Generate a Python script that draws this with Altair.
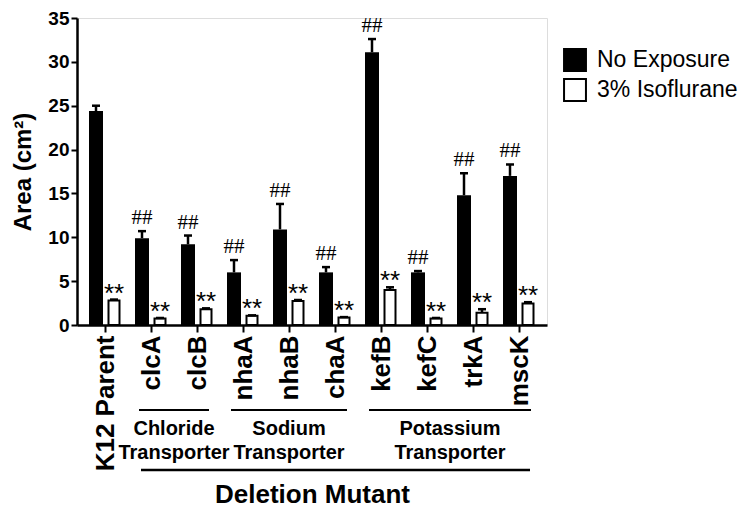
import json
import altair as alt
import pandas as pd

categories = ["K12 Parent", "clcA", "clcB", "nhaA", "nhaB", "chaA", "kefB", "kefC", "trkA", "mscK"]
no_exposure = [24.4, 9.9, 9.2, 6.0, 10.9, 6.0, 31.1, 6.0, 14.8, 17.0]
no_exposure_err = [0.6, 0.8, 1.0, 1.4, 2.9, 0.6, 1.5, 0.15, 2.5, 1.3]
isoflurane = [2.8, 0.75, 1.8, 1.05, 2.75, 0.85, 4.0, 0.75, 1.4, 2.45]
isoflurane_err = [0.1, 0.05, 0.1, 0.05, 0.1, 0.05, 0.3, 0.05, 0.4, 0.15]
no_exposure_sig = ["", "##", "##", "##", "##", "##", "##", "##", "##", "##"]
isoflurane_sig = ["**", "**", "**", "**", "**", "**", "**", "**", "**", "**"]
series_names = ["No Exposure", "3% Isoflurane"]
series_colors = ["black", "white"]

group_line1 = ["Chloride", "Sodium", "Potassium"]
group_line2 = ["Transporter", "Transporter", "Transporter"]
group_first = ["clcA", "nhaA", "kefB"]
group_last = ["clcB", "chaA", "mscK"]

x_title = "Deletion Mutant"
y_title = "Area (cm²)"
y_ticks = [0, 5, 10, 15, 20, 25, 30, 35]

FONT = "Liberation Sans"

rows = []
for i, c in enumerate(categories):
    rows.append(dict(idx=i, category=c, series=series_names[0], value=no_exposure[i],
                     top=no_exposure[i] + no_exposure_err[i], sig=no_exposure_sig[i]))
    rows.append(dict(idx=i, category=c, series=series_names[1], value=isoflurane[i],
                     top=isoflurane[i] + isoflurane_err[i], sig=isoflurane_sig[i]))
df = pd.DataFrame(rows)

gfirst = [categories.index(f) for f in group_first]
glast = [categories.index(l) for l in group_last]
groups = pd.DataFrame({
    "line1": group_line1,
    "line2": group_line2,
    "first": gfirst,
    "last": glast,
    "center": [(a + b) / 2 for a, b in zip(gfirst, glast)],
})
span = pd.DataFrame({"first": [min(gfirst)], "last": [max(glast)]})

label_expr = json.dumps(categories) + "[datum.value]"

xscale = alt.Scale(domain=[-0.5, len(categories) - 0.5], nice=False, zero=False)
yscale = alt.Scale(domain=[0, 35], nice=False)

PLOT_TOP = 18  # page y of plot top

X = alt.X("idx:Q", scale=xscale, title=x_title,
          axis=alt.Axis(values=list(range(len(categories))), labelExpr=label_expr,
                        labelAngle=-90, labelAlign="right", labelBaseline="middle",
                        labelFontSize=26, labelFontWeight="bold", labelColor="black",
                        labelPadding=3, tickSize=7, tickWidth=2, tickColor="black",
                        domainWidth=2.5, domainColor="black", grid=False,
                        titleFontSize=26, titleFontWeight="bold", titleColor="black",
                        titleY=177, titleBaseline="alphabetic"))
Y = alt.Y("value:Q", scale=yscale, title=y_title,
          axis=alt.Axis(values=y_ticks, labelFontSize=19, labelFontWeight="bold",
                        labelColor="black", labelPadding=2, tickSize=6, tickWidth=2,
                        tickColor="black", domainWidth=2.5, domainColor="black", grid=False,
                        titleFontSize=24, titleFontWeight="bold", titleColor="black",
                        titlePadding=12))

FILL = alt.Fill("series:N", scale=alt.Scale(domain=series_names, range=series_colors),
                legend=alt.Legend(orient="none", legendX=486, legendY=30, title=None,
                                  symbolType="square", symbolSize=480,
                                  symbolStrokeColor="black", symbolStrokeWidth=2,
                                  labelFontSize=23, labelFont=FONT, labelColor="black",
                                  rowPadding=0, labelOffset=10))

base = alt.Chart(df)
black = base.transform_filter(alt.datum.series == series_names[0])
white = base.transform_filter(alt.datum.series == series_names[1])

black_bars = black.mark_bar(width=14, xOffset=-9).encode(x=X, y=Y, fill=FILL)
white_bars = white.mark_bar(width=11, xOffset=9, stroke="black", strokeWidth=2).encode(
    x=X, y=Y, fill=FILL)

def err_layers(ch, off):
    stem = ch.mark_rule(xOffset=off, strokeWidth=2.5, color="black").encode(
        x=alt.X("idx:Q", scale=xscale), y=alt.Y("value:Q", scale=yscale), y2="top:Q")
    cap = ch.mark_tick(orient="horizontal", size=8, thickness=2.5, xOffset=off,
                       color="black", opacity=1).encode(
        x=alt.X("idx:Q", scale=xscale), y=alt.Y("top:Q", scale=yscale))
    return [stem, cap]

sig_black = black.mark_text(dx=-9, dy=-7, baseline="alphabetic", font="Liberation Serif",
                            fontSize=21, color="black").encode(
    x=alt.X("idx:Q", scale=xscale), y=alt.Y("top:Q", scale=yscale), text="sig:N")
sig_white = white.mark_text(dx=9, dy=2, baseline="alphabetic", font=FONT,
                            fontSize=26, color="black").encode(
    x=alt.X("idx:Q", scale=xscale), y=alt.Y("top:Q", scale=yscale), text="sig:N")

grp = alt.Chart(groups)
group_rules = grp.mark_rule(strokeWidth=2, color="black", xOffset=-12, x2Offset=12).encode(
    x=alt.X("first:Q", scale=xscale), x2="last:Q", y=alt.value(410 - PLOT_TOP))
group_text1 = grp.mark_text(font=FONT, fontSize=20, fontWeight="bold", color="black",
                            baseline="middle").encode(
    x=alt.X("center:Q", scale=xscale), y=alt.value(429 - PLOT_TOP), text="line1:N")
group_text2 = grp.mark_text(font=FONT, fontSize=20, fontWeight="bold", color="black",
                            baseline="middle").encode(
    x=alt.X("center:Q", scale=xscale), y=alt.value(453 - PLOT_TOP), text="line2:N")
span_rule = alt.Chart(span).mark_rule(strokeWidth=2.5, color="black", xOffset=-10,
                                      x2Offset=11).encode(
    x=alt.X("first:Q", scale=xscale), x2="last:Q", y=alt.value(470 - PLOT_TOP))

layers = [black_bars, white_bars] + err_layers(black, -9) + err_layers(white, 9) + [
    sig_black, sig_white, group_rules, group_text1, group_text2, span_rule]

chart = alt.layer(*layers).properties(
    width=470, height=325 - PLOT_TOP,
    autosize=alt.AutoSizeParams(type="none"),
    padding={"left": 69, "top": PLOT_TOP - 8, "right": 198, "bottom": 182},
).configure_view(stroke=None).configure(font=FONT)

chart.save("out.html", embed_options={"renderer": "svg", "actions": False})
